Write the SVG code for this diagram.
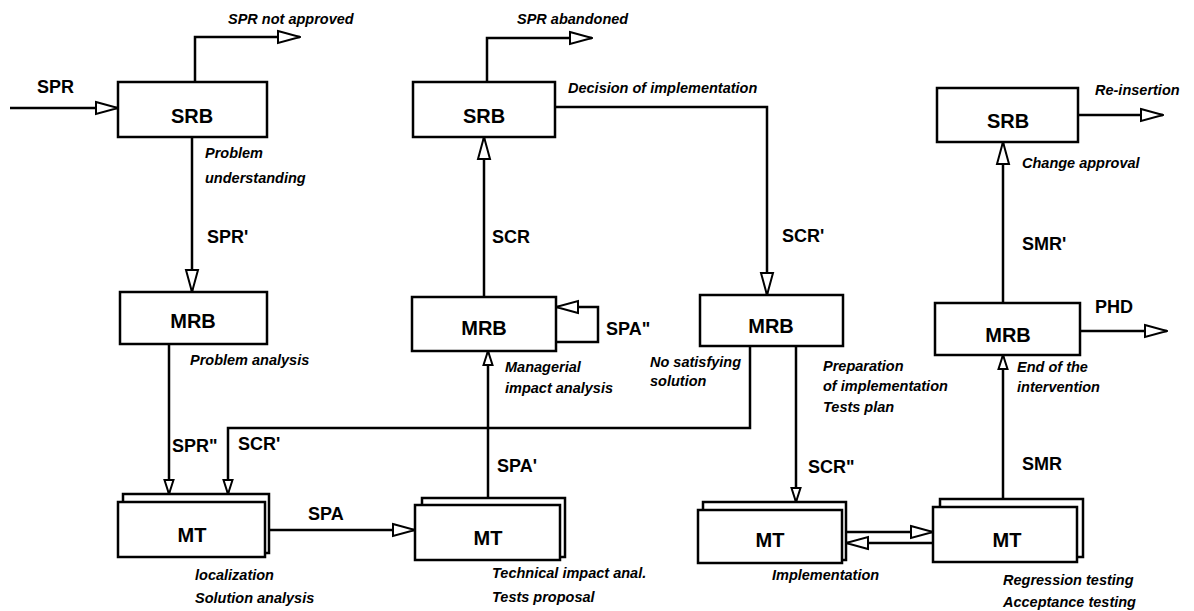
<svg xmlns="http://www.w3.org/2000/svg" width="1194" height="611" viewBox="0 0 1194 611">
<style>
  .box { fill: #fff; stroke: #000; stroke-width: 2.5; }
  .name { font-family: "Liberation Sans", Arial, sans-serif; font-weight: bold; font-size: 20px; text-anchor: middle; fill: #000; }
  .flow { font-family: "Liberation Sans", Arial, sans-serif; font-weight: bold; font-size: 18px; fill: #000; }
  .note { font-family: "Liberation Sans", Arial, sans-serif; font-weight: bold; font-style: italic; font-size: 14.5px; fill: #000; }
  .con { fill: none; stroke: #000; stroke-width: 2.5; }
  .big { marker-end: url(#arrowBig); }
  .small { marker-end: url(#arrowSmall); }
</style>
<defs>
  <marker id="arrowBig" markerUnits="userSpaceOnUse" viewBox="0 0 24 16" refX="23" refY="8" markerWidth="24" markerHeight="16" orient="auto">
    <path d="M1,2 L23,8 L1,14 Z" fill="#fff" stroke="#000" stroke-width="2"/>
  </marker>
  <marker id="arrowSmall" markerUnits="userSpaceOnUse" viewBox="0 0 16 12" refX="15" refY="6" markerWidth="16" markerHeight="12" orient="auto">
    <path d="M1,1.5 L15,6 L1,10.5 Z" fill="#fff" stroke="#000" stroke-width="2"/>
  </marker>
</defs>
<rect width="1194" height="611" fill="#fff"/>

<g id="connectors">
  <path class="con big" d="M10,108 H118"/>
  <path class="con big" d="M195,82 V37 H300"/>
  <path class="con big" d="M192,137 V292"/>
  <path class="con small" d="M169,344 V494"/>
  <path class="con small" d="M750,346 V428 H228 V494"/>
  <path class="con big" d="M269,530 H415"/>
  <path class="con small" d="M488,498 V351"/>
  <path class="con big" d="M484,297 V137"/>
  <path class="con big" d="M556,342 H598 V307 H556"/>
  <path class="con big" d="M487,82 V38 H592"/>
  <path class="con big" d="M555,107 H767 V295"/>
  <path class="con small" d="M796,346 V502"/>
  <path class="con big" d="M846,532 H933"/>
  <path class="con big" d="M933,543 H846"/>
  <path class="con small" d="M1003,499 V355"/>
  <path class="con big" d="M1003,303 V142"/>
  <path class="con big" d="M1080,331 H1167"/>
  <path class="con big" d="M1078,115 H1163"/>
</g>

<g id="labels">
  <text class="flow" x="37" y="93">SPR</text>
  <text class="note" x="228" y="24">SPR not approved</text>
  <text class="note" x="205" y="158">Problem</text>
  <text class="note" x="205" y="183">understanding</text>
  <text class="flow" x="207" y="243">SPR'</text>
  <text class="note" x="190" y="365">Problem analysis</text>
  <text class="flow" x="172" y="452">SPR"</text>
  <text class="flow" x="238" y="450">SCR'</text>
  <text class="flow" x="308" y="520">SPA</text>
  <text class="note" x="195" y="580">localization</text>
  <text class="note" x="195" y="603">Solution analysis</text>
  <text class="flow" x="497" y="472">SPA'</text>
  <text class="note" x="492" y="578">Technical impact anal.</text>
  <text class="note" x="492" y="602">Tests proposal</text>
  <text class="note" x="505" y="372">Managerial</text>
  <text class="note" x="505" y="393">impact analysis</text>
  <text class="flow" x="492" y="243">SCR</text>
  <text class="flow" x="606" y="335">SPA"</text>
  <text class="note" x="517" y="24">SPR abandoned</text>
  <text class="note" x="568" y="93">Decision of implementation</text>
  <text class="flow" x="782" y="242">SCR'</text>
  <text class="note" x="650" y="367">No satisfying</text>
  <text class="note" x="650" y="386">solution</text>
  <text class="note" x="823" y="371">Preparation</text>
  <text class="note" x="823" y="391">of implementation</text>
  <text class="note" x="823" y="412">Tests plan</text>
  <text class="flow" x="808" y="473">SCR"</text>
  <text class="note" x="772" y="580">Implementation</text>
  <text class="flow" x="1022" y="470">SMR</text>
  <text class="note" x="1003" y="585">Regression testing</text>
  <text class="note" x="1003" y="607">Acceptance testing</text>
  <text class="flow" x="1095" y="313">PHD</text>
  <text class="note" x="1017" y="372">End of the</text>
  <text class="note" x="1017" y="392">intervention</text>
  <text class="flow" x="1022" y="250">SMR'</text>
  <text class="note" x="1022" y="168">Change approval</text>
  <text class="note" x="1095" y="95">Re-insertion</text>
</g>

<g id="srb1">
  <rect class="box" x="118" y="82" width="149" height="55"/>
  <text class="name" x="192" y="123">SRB</text>
</g>
<g id="mrb1">
  <rect class="box" x="120" y="292" width="147" height="52"/>
  <text class="name" x="193" y="328">MRB</text>
</g>
<g id="mt1">
  <rect class="box" x="123" y="494" width="146" height="59"/>
  <rect class="box" x="118" y="502" width="147" height="55"/>
  <text class="name" x="192" y="542">MT</text>
</g>
<g id="srb2">
  <rect class="box" x="413" y="82" width="142" height="55"/>
  <text class="name" x="484" y="123">SRB</text>
</g>
<g id="mrb2">
  <rect class="box" x="412" y="297" width="144" height="54"/>
  <text class="name" x="484" y="335">MRB</text>
</g>
<g id="mt2">
  <rect class="box" x="422" y="498" width="143" height="59"/>
  <rect class="box" x="415" y="505" width="145" height="55"/>
  <text class="name" x="488" y="545">MT</text>
</g>
<g id="mrb3">
  <rect class="box" x="700" y="295" width="143" height="51"/>
  <text class="name" x="771" y="333">MRB</text>
</g>
<g id="mt3">
  <rect class="box" x="703" y="502" width="143" height="58"/>
  <rect class="box" x="698" y="510" width="144" height="53"/>
  <text class="name" x="770" y="547">MT</text>
</g>
<g id="srb3">
  <rect class="box" x="937" y="88" width="141" height="54"/>
  <text class="name" x="1008" y="128">SRB</text>
</g>
<g id="mrb4">
  <rect class="box" x="935" y="303" width="145" height="52"/>
  <text class="name" x="1008" y="342">MRB</text>
</g>
<g id="mt4">
  <rect class="box" x="940" y="499" width="143" height="58"/>
  <rect class="box" x="933" y="507" width="144" height="55"/>
  <text class="name" x="1007" y="547">MT</text>
</g>
</svg>
